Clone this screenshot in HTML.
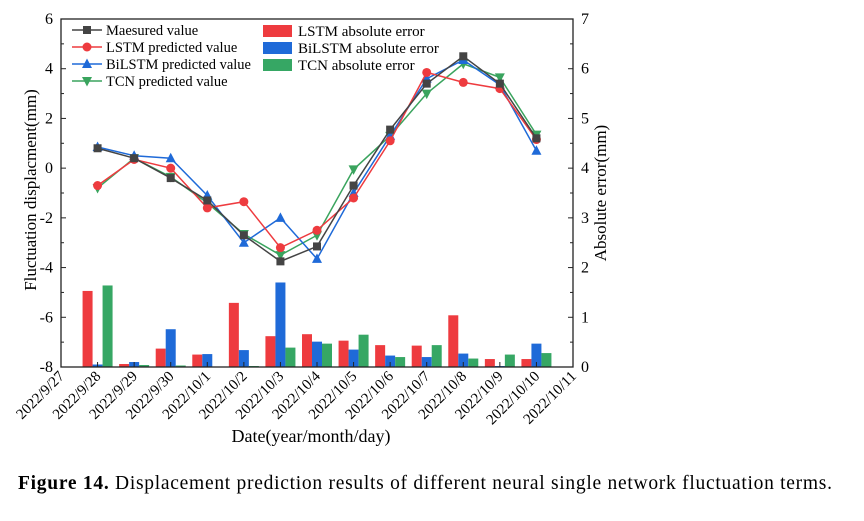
<!DOCTYPE html>
<html><head><meta charset="utf-8"><style>
body{margin:0;background:#fff;width:864px;height:516px;overflow:hidden}
svg{font-family:"Liberation Serif",serif}
</style></head><body>
<svg id="chart" width="864" height="516">
<g id="bars"></g>
<g id="axes"></g>
<g id="lines"></g>
<g id="legend"></g>
<text x="36" y="190" font-size="17" text-anchor="middle" transform="rotate(-90 36 190)">Fluctuation displacment(mm)</text>
<text x="606" y="193" font-size="17" text-anchor="middle" transform="rotate(-90 606 193)">Absolute error(mm)</text>
<text x="311" y="442" font-size="18" text-anchor="middle">Date(year/month/day)</text>
<text x="18" y="489" font-size="19.5" textLength="814" lengthAdjust="spacing"><tspan font-weight="bold">Figure 14.</tspan> Displacement prediction results of different neural single network fluctuation terms.</text>
</svg>
<script>
const dates=["2022/9/27","2022/9/28","2022/9/29","2022/9/30","2022/10/1","2022/10/2","2022/10/3","2022/10/4","2022/10/5","2022/10/6","2022/10/7","2022/10/8","2022/10/9","2022/10/10","2022/10/11"];
const measured=[null,0.8,0.4,-0.4,-1.3,-2.7,-3.75,-3.15,-0.7,1.55,3.4,4.5,3.4,1.2,null];
const lstmPred=[null,-0.7,0.35,0.0,-1.6,-1.35,-3.2,-2.5,-1.2,1.1,3.85,3.45,3.2,1.15,null];
const bilstmPred=[null,0.85,0.5,0.4,-1.1,-3.0,-2.0,-3.65,-1.0,1.3,3.6,4.35,3.35,0.7,null];
const tcnPred=[null,-0.8,0.4,-0.35,-1.4,-2.65,-3.5,-2.7,-0.05,1.3,3.0,4.2,3.65,1.35,null];
const lstmErr=[null,1.53,0.06,0.37,0.25,1.29,0.62,0.66,0.53,0.44,0.43,1.04,0.16,0.16,null];
const bilstmErr=[null,0.05,0.10,0.76,0.26,0.34,1.70,0.51,0.35,0.23,0.20,0.27,0.02,0.47,null];
const tcnErr=[null,1.64,0.04,0.03,0.0,0.02,0.39,0.47,0.65,0.20,0.44,0.17,0.25,0.28,null];
const leftTicks=[6,4,2,0,-2,-4,-6,-8];
const rightTicks=[0,1,2,3,4,5,6,7];

const NS="http://www.w3.org/2000/svg";
const L=61,R=573,T=19,B=367;
const x=i=>L+i*(R-L)/(dates.length-1);
const yL=v=>T+(6-v)*(B-T)/14;
const yR=v=>B-v*(B-T)/7;
function mk(tag,at,parent){const e=document.createElementNS(NS,tag);for(const k in at)e.setAttribute(k,at[k]);parent.appendChild(e);return e;}
const gb=document.getElementById('bars'),ga=document.getElementById('axes'),gl=document.getElementById('lines'),gg=document.getElementById('legend');
const bw=10;
[[lstmErr,'#ee3b3f',-1.5,'lstm'],[bilstmErr,'#1f6ad8',-0.5,'bilstm'],[tcnErr,'#36a764',0.5,'tcn']].forEach(([arr,c,o,n])=>{
 arr.forEach((v,i)=>{if(v==null)return;
  const r=mk('rect',{x:x(i)+o*bw,y:yR(v),width:bw,height:B-yR(v),fill:c},gb);
  
  });
});
mk('rect',{x:L,y:T,width:R-L,height:B-T,fill:'none',stroke:'#222','stroke-width':1.3},ga);
leftTicks.forEach(v=>{mk('line',{x1:L,x2:L+5,y1:yL(v),y2:yL(v),stroke:'#222'},ga);
 const t=mk('text',{x:L-8,y:yL(v)+5,'font-size':16,'text-anchor':'end'},ga);t.textContent=v;
 
 });
for(let v=-7;v<6;v+=2)mk('line',{x1:L,x2:L+3,y1:yL(v),y2:yL(v),stroke:'#222'},ga);
rightTicks.forEach(v=>{mk('line',{x1:R-5,x2:R,y1:yR(v),y2:yR(v),stroke:'#222'},ga);
 const t=mk('text',{x:R+8,y:yR(v)+5,'font-size':16},ga);t.textContent=v;
 
 });
for(let v=0.5;v<7;v+=1)mk('line',{x1:R-3,x2:R,y1:yR(v),y2:yR(v),stroke:'#222'},ga);
dates.forEach((d,i)=>{mk('line',{x1:x(i),x2:x(i),y1:B,y2:B-5,stroke:'#222'},ga);
 const t=mk('text',{x:x(i)+4,y:B+10,'font-size':15,'text-anchor':'end',transform:`rotate(-45 ${x(i)+4} ${B+10})`},ga);t.textContent=d;
 
 });
function marker(type,cx,cy,c,p){
 if(type==='sq')return mk('rect',{x:cx-4,y:cy-4,width:8,height:8,fill:c},p);
 if(type==='ci')return mk('circle',{cx:cx,cy:cy,r:4.5,fill:c},p);
 if(type==='up')return mk('path',{d:`M${cx} ${cy-5.5}L${cx+5} ${cy+4}L${cx-5} ${cy+4}Z`,fill:c},p);
 return mk('path',{d:`M${cx} ${cy+5.5}L${cx+5} ${cy-4}L${cx-5} ${cy-4}Z`,fill:c},p);}
const series=[[tcnPred,'#3aa45e','dn','tcn'],[bilstmPred,'#1f6ad8','up','bilstm'],[lstmPred,'#ee3b3f','ci','lstm'],[measured,'#444','sq','measured']];
series.forEach(([arr,c,m,n])=>{
 const pts=[];arr.forEach((v,i)=>{if(v!=null)pts.push([x(i),yL(v)]);});
 const pl=mk('polyline',{points:pts.map(p=>p.join(',')).join(' '),fill:'none',stroke:c,'stroke-width':1.5},gl);
 
 
 pts.forEach(p=>{const e=marker(m,p[0],p[1],c,gl);
  
  });
});
[['Maesured value','#444','sq'],['LSTM predicted value','#ee3b3f','ci'],['BiLSTM predicted value','#1f6ad8','up'],['TCN predicted value','#3aa45e','dn']].forEach((s,k)=>{
 const yy=30+k*17;
 mk('line',{x1:72,x2:102,y1:yy,y2:yy,stroke:s[1],'stroke-width':1.5},gg);
 marker(s[2],87,yy,s[1],gg);
 const t=mk('text',{x:106,y:yy+5,'font-size':14.5},gg);t.textContent=s[0];
 
 });
[['LSTM absolute error','#ee3b3f'],['BiLSTM absolute error','#1f6ad8'],['TCN absolute error','#36a764']].forEach((s,k)=>{
 const yy=31+k*17;
 mk('rect',{x:263,y:yy-6,width:29,height:12,fill:s[1]},gg);
 const t=mk('text',{x:298,y:yy+5,'font-size':15},gg);t.textContent=s[0];
 
 });
</script>
</body></html>
